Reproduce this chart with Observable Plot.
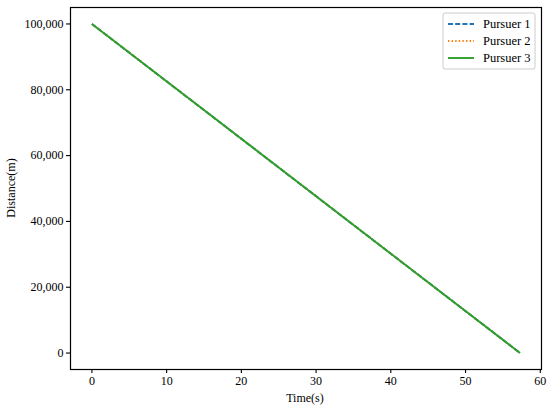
<!DOCTYPE html>
<html>
<head>
<meta charset="utf-8">
<script src="https://cdn.jsdelivr.net/npm/d3@7"></script>
<script src="https://cdn.jsdelivr.net/npm/@observablehq/plot@0.6"></script>
<style>
  html, body { margin: 0; padding: 0; background: #fff; }
  #chart { position: relative; width: 550px; height: 410px; }
  #chart svg, #chart svg text { font-family: "Liberation Serif", "DejaVu Serif", serif !important; }
</style>
</head>
<body>
<div id="chart"></div>
<script>
const seriesNames = ["Pursuer 1", "Pursuer 2", "Pursuer 3"];
const seriesColors = ["#1f77b4", "#ff7f0e", "#2ca02c"];
const seriesDash = ["5,2.2", "1.4,2.2", null];
const time = [0, 57.3];
const pursuer1 = [100000, 0];
const pursuer2 = [100000, 0];
const pursuer3 = [100000, 0];
const xTicks = [0, 10, 20, 30, 40, 50, 60];
const yTicks = [0, 20000, 40000, 60000, 80000, 100000];

const allSeries = [pursuer1, pursuer2, pursuer3];
const data = [];
allSeries.forEach((vals, i) => {
  vals.forEach((v, j) => data.push({series: seriesNames[i], t: time[j], d: v}));
});

const tMax = d3.max(time), dMax = d3.max(allSeries.flat()), dMin = d3.min(allSeries.flat());
const xPad = tMax * 0.05, yPad = (dMax - dMin) * 0.05;
const FONT = "Liberation Serif, serif";

const lineMarks = seriesNames.map((name, i) =>
  Plot.line(data.filter(d => d.series === name), {
    x: "t", y: "d",
    stroke: seriesColors[i],
    strokeWidth: 1.9,
    strokeDasharray: seriesDash[i] || undefined,
    strokeLinecap: "butt"
  })
);

const chart = Plot.plot({
  width: 550,
  height: 410,
  marginLeft: 70,
  marginRight: 9,
  marginTop: 7,
  marginBottom: 41,
  style: {fontFamily: FONT, fontSize: "12px", color: "#000", background: "#fff"},
  x: {domain: [-xPad, tMax + xPad], label: null},
  y: {domain: [dMin - yPad, dMax + yPad], label: null},
  marks: [
    ...lineMarks,
    Plot.frame({stroke: "#000", strokeWidth: 1.2}),
    Plot.axisX({ticks: xTicks, tickSize: 4, tickPadding: 3, fontSize: 12, label: null, strokeWidth: 1.1}),
    Plot.axisY({ticks: yTicks, tickSize: 4, tickPadding: 3, fontSize: 12, tickFormat: d3.format(","), label: null, strokeWidth: 1.1})
  ]
});

document.getElementById("chart").appendChild(chart);

const svg = d3.select(chart);
// Axis titles
svg.append("text")
  .attr("x", 305).attr("y", 402)
  .attr("text-anchor", "middle")
  .attr("font-family", FONT)
  .attr("font-size", 12).attr("fill", "#000")
  .text("Time(s)");
svg.append("text")
  .attr("transform", "translate(15,188) rotate(-90)")
  .attr("text-anchor", "middle")
  .attr("font-family", FONT)
  .attr("font-size", 12).attr("fill", "#000")
  .text("Distance(m)");

// Legend
const lg = svg.append("g").attr("transform", "translate(443,13)");
lg.append("rect")
  .attr("width", 92).attr("height", 56).attr("rx", 2)
  .attr("fill", "#fff").attr("fill-opacity", 0.8)
  .attr("stroke", "#ccc").attr("stroke-width", 1);
seriesNames.forEach((name, i) => {
  const y = 11 + i * 17;
  lg.append("line")
    .attr("x1", 5).attr("x2", 31).attr("y1", y).attr("y2", y)
    .attr("stroke", seriesColors[i]).attr("stroke-width", 1.9)
    .attr("stroke-dasharray", seriesDash[i]);
  lg.append("text")
    .attr("x", 40).attr("y", y).attr("dy", "0.35em")
    .attr("text-anchor", "start")
    .attr("font-family", FONT)
    .attr("font-size", 12.5).attr("fill", "#000")
    .text(name);
});
</script>
</body>
</html>
